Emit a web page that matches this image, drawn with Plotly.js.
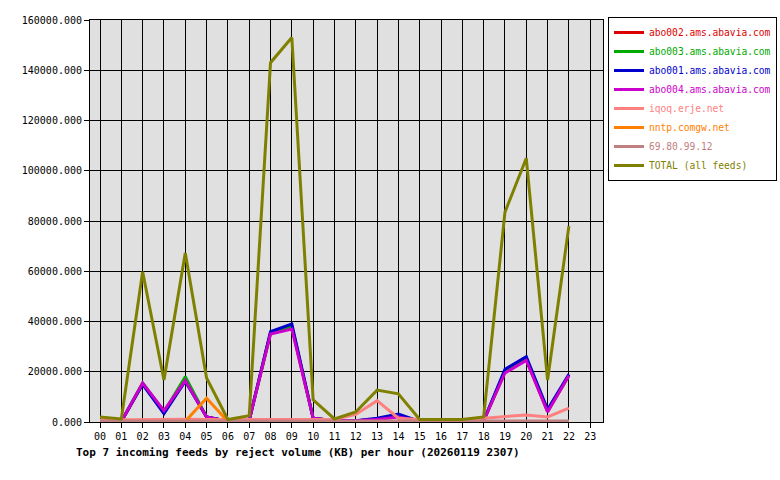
<!DOCTYPE html>
<html>
<head>
<meta charset="utf-8">
<script src="https://cdn.plot.ly/plotly-3.0.1.min.js"></script>
<style>html,body{margin:0;padding:0;background:#fff;}#chart{width:780px;height:480px;}</style>
</head>
<body>
<div id="chart"></div>
<script>
const hours = [0,1,2,3,4,5,6,7,8,9,10,11,12,13,14,15,16,17,18,19,20,21,22];
const tickLabels = ["00","01","02","03","04","05","06","07","08","09","10","11","12","13","14","15","16","17","18","19","20","21","22","23"];
const feedNames = ["abo002.ams.abavia.com","abo003.ams.abavia.com","abo001.ams.abavia.com","abo004.ams.abavia.com","iqoq.erje.net","nntp.comgw.net","69.80.99.12","TOTAL (all feeds)"];
const feedColors = ["#dd0000","#00aa00","#0000cc","#cc00cc","#ff8080","#ff8000","#c08080","#808000"];

const abo002 = [300,200,15200,3800,16500,2000,300,800,35500,38000,1500,500,500,1000,2500,200,200,200,500,20000,25000,4200,18500];
const abo003 = [300,200,15500,4000,18000,2000,300,700,35500,38000,1500,500,500,1000,2500,200,200,200,500,20000,25000,4500,18500];
const abo001 = [300,200,15000,3300,16200,2000,300,700,36000,39000,1500,500,500,1500,3200,200,200,200,500,21000,26000,5000,19000];
const abo004 = [300,200,15500,4500,16500,2000,300,700,35000,37000,1500,500,500,1000,2000,200,200,200,500,19500,24500,4000,18500];
const iqoq = [800,900,1000,1000,1100,1000,1000,1200,1000,1100,1000,1000,3000,8500,1500,1000,1000,1000,1500,2200,2800,2000,5500];
const nntp = [0,0,0,0,300,9500,200,0,0,0,0,0,0,0,0,0,0,0,0,0,0,0,0];
const ip69 = [400,400,400,400,400,400,400,400,400,400,400,400,400,400,400,400,400,400,400,400,400,400,400];
const total = [2000,1200,59800,16700,67300,17500,1000,2500,143000,153000,8800,1200,4000,12700,11200,1000,1000,1000,2000,83500,105000,16700,78000];

const seriesList = [abo002, abo003, abo001, abo004, iqoq, nntp, ip69, total];

const traces = seriesList.map((ys, i) => ({
  x: hours,
  y: ys,
  name: '<span style="color:' + feedColors[i] + '">' + feedNames[i] + '</span>',
  type: 'scatter',
  mode: 'lines',
  line: {color: feedColors[i], width: 3},
  hoverinfo: 'skip'
}));

const mono = '"DejaVu Sans Mono", "Liberation Mono", monospace';

const layout = {
  width: 780,
  height: 480,
  margin: {l: 90, r: 177, t: 20, b: 58, pad: 0, autoexpand: false},
  paper_bgcolor: '#ffffff',
  plot_bgcolor: '#e0e0e0',
  font: {family: mono, size: 10, color: '#000'},
  showlegend: true,
  legend: {
    x: (777 - 90) / 513, y: 1.0075, xanchor: 'right', yanchor: 'top',
    bordercolor: '#000', borderwidth: 1, bgcolor: '#fff',
    font: {family: mono, size: 9.6},
    itemwidth: 30,
    tracegroupgap: 0
  },
  xaxis: {
    range: [-0.47, 23.6],
    tickvals: tickLabels.map((_, i) => i),
    ticktext: tickLabels,
    showgrid: true, gridcolor: '#000', gridwidth: 1,
    showline: true, linecolor: '#000', linewidth: 1, mirror: true,
    ticks: 'outside', ticklen: 5, tickcolor: '#000',
    zeroline: false,
    tickfont: {family: mono, size: 10}
  },
  yaxis: {
    range: [0, 160000],
    tickvals: [0,20000,40000,60000,80000,100000,120000,140000,160000],
    tickformat: '.3f',
    showgrid: true, gridcolor: '#000', gridwidth: 1,
    showline: true, linecolor: '#000', linewidth: 1, mirror: true,
    ticks: 'outside', ticklen: 5, tickcolor: '#000',
    zeroline: false,
    tickfont: {family: mono, size: 10}
  },
  annotations: [{
    text: 'Top 7 incoming feeds by reject volume (KB) per hour (20260119 2307)',
    xref: 'paper', yref: 'paper',
    x: (74 - 90) / 513, y: -(452 - 422) / 402,
    xanchor: 'left', yanchor: 'middle',
    showarrow: false,
    font: {family: mono, size: 11, color: '#000', weight: 'bold'}
  }]
};

Plotly.newPlot('chart', traces, layout, {displayModeBar: false, staticPlot: true});
</script>
</body>
</html>
